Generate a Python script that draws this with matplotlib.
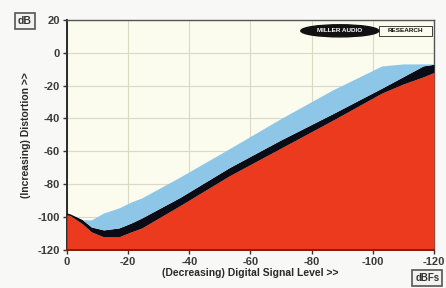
import matplotlib
matplotlib.use("Agg")
import matplotlib.pyplot as plt
from matplotlib.patches import Ellipse, Rectangle
import numpy as np

plt.rcParams['font.family'] = ['Liberation Sans', 'DejaVu Sans']

# Data
signal_level = [0, -1, -5, -8, -12, -17, -21, -24.5, -37, -53, -70, -87, -103, -110, -116.5, -120]
red_top   = [-98.7, -99, -104, -109, -112, -112, -109, -106.6, -93, -75, -58, -41, -24.5, -19, -14.7, -12]
black_top = [-97.5, -98, -101.5, -106, -107.8, -106.6, -103.6, -100.5, -88, -70, -53, -37, -21.5, -14.5, -8, -7]
blue_top  = [-97.5, -98, -101.5, -101.7, -97.5, -94.4, -90.8, -88.3, -75.6, -58.5, -40, -22.5, -8, -6.8, -6.8, -6.8]
x_ticks = [0, -20, -40, -60, -80, -100, -120]
y_ticks = [20, 0, -20, -40, -60, -80, -100, -120]

fig = plt.figure(figsize=(4.46, 2.88), dpi=100)
fig.patch.set_facecolor('#f8f8f6')
ax = fig.add_axes([0.150, 0.132, 0.823, 0.799])
ax.set_facecolor('#fbfbee')

x = np.array(signal_level)
ax.fill_between(x, -120, red_top, color='#ec3a1f', lw=0, zorder=3)
ax.fill_between(x, red_top, black_top, color='#0b0b16', lw=0, zorder=3)
ax.fill_between(x, black_top, blue_top, color='#8ec6e8', lw=0, zorder=3)

ax.set_xlim(0, -120)
ax.set_ylim(-120, 20)
ax.set_xticks(x_ticks)
ax.set_yticks(y_ticks)
ax.set_xticklabels([str(v) for v in x_ticks])
ax.set_yticklabels([str(v) for v in y_ticks])
ax.grid(True, color='#d9d9c6', lw=0.8, zorder=1)
ax.tick_params(axis='both', labelsize=8, colors='#333333', length=3, width=1, pad=2)
for lab in ax.get_xticklabels() + ax.get_yticklabels():
    lab.set_fontweight('bold')
    lab.set_color('#3a3a3a')

for side in ['left', 'bottom']:
    ax.spines[side].set_color('#2a2a2a')
    ax.spines[side].set_linewidth(1.4)
for side in ['top', 'right']:
    ax.spines[side].set_color('#555555')
    ax.spines[side].set_linewidth(1.0)
ax.spines['bottom'].set_color('#8a1a10')
ax.spines['bottom'].set_zorder(5)

ax.set_xlabel('(Decreasing) Digital Signal Level >>', fontsize=7.5, fontweight='bold',
              color='#2a2a2a', labelpad=1)
ax.set_ylabel('(Increasing) Distortion >>', fontsize=7.5, fontweight='bold',
              color='#2a2a2a', labelpad=5)

# unit boxes
fig.text(0.056, 0.927, 'dB', fontsize=7.5, fontweight='bold', color='#333333',
         ha='center', va='center',
         bbox=dict(boxstyle='square,pad=0.3', fc='#f2f2ee', ec='#555555', lw=1.2))
fig.text(0.958, 0.035, 'dBFs', fontsize=7, fontweight='bold', color='#333333',
         ha='center', va='center',
         bbox=dict(boxstyle='square,pad=0.3', fc='#f2f2ee', ec='#555555', lw=1.2))

# logo
ell = Ellipse((0.762, 0.893), 0.175, 0.042, transform=fig.transFigure, color='#111111', zorder=10)
fig.patches.append(ell)
rect = Rectangle((0.85, 0.876), 0.118, 0.034, transform=fig.transFigure,
                 fc='none', ec='#222222', lw=0.6, zorder=10)
fig.patches.append(rect)
fig.text(0.762, 0.893, 'MILLER AUDIO', fontsize=4.6, fontweight='bold', color='white',
         ha='center', va='center', zorder=11)
fig.text(0.909, 0.893, 'RESEARCH', fontsize=4.6, fontweight='bold', color='#111111',
         ha='center', va='center', zorder=11)

fig.savefig('out.png', dpi=100, facecolor=fig.get_facecolor())
